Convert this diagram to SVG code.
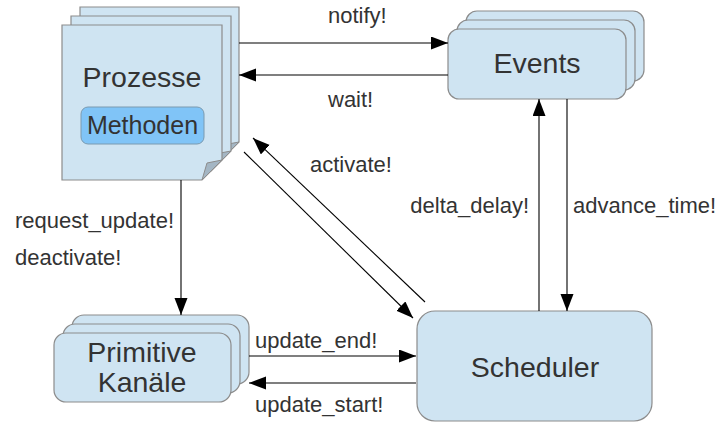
<svg xmlns="http://www.w3.org/2000/svg" width="720" height="423" viewBox="0 0 720 423">
<defs>
<style>
.box{fill:#cfe4f2;stroke:#8c8c8c;stroke-width:1.2}
.fold{fill:#a4b6c4;stroke:#8c8c8c;stroke-width:1}
.big{font-family:"Liberation Sans",Arial,sans-serif;font-size:28.5px;fill:#333;text-anchor:middle}
.lbl{font-family:"Liberation Sans",Arial,sans-serif;font-size:22px;fill:#333}
.edge{stroke:#000;stroke-width:1.1;fill:none;marker-end:url(#ah)}
</style>
<marker id="ah" markerUnits="userSpaceOnUse" markerWidth="18" markerHeight="14" refX="17" refY="6.5" orient="auto">
<path d="M0,0 L17,6.5 L0,13 z" fill="#000"/>
</marker>
</defs>
<rect width="720" height="423" fill="#fff"/>

<g id="prozesse">
<path class="box" d="M80,7 H239 V142 L219,162 H80 Z"/>
<path class="fold" d="M219,162 L223,145 L239,142 Z"/>
<path class="box" d="M71,16 H231 V151 L211,171 H71 Z"/>
<path class="fold" d="M211,171 L215,154 L231,151 Z"/>
<path class="box" d="M62,25 H222 V160 L202,180 H62 Z"/>
<path class="fold" d="M202,180 L207,163 L222,160 Z"/>
<text class="big" x="142" y="87">Prozesse</text>
<rect x="81" y="107" width="123" height="37" rx="7" fill="#80c4f7" stroke="#7a9ab0" stroke-width="1"/>
<text class="big" x="142.5" y="134" style="font-size:25px">Methoden</text>
</g>

<g id="events">
<rect class="box" x="466" y="11" width="178" height="70" rx="11"/>
<rect class="box" x="457" y="20" width="178" height="70" rx="11"/>
<rect class="box" x="448" y="29" width="178" height="70" rx="11"/>
<text class="big" x="537" y="73">Events</text>
</g>

<g id="kanaele">
<rect class="box" x="72" y="315" width="177" height="69" rx="12"/>
<rect class="box" x="63" y="324" width="177" height="69" rx="12"/>
<rect class="box" x="54" y="333" width="177" height="69" rx="12"/>
<text class="big" x="142" y="362">Primitive</text>
<text class="big" x="142" y="392">Kanäle</text>
</g>

<g id="scheduler">
<rect class="box" x="417" y="311" width="235" height="110" rx="18"/>
<text class="big" x="535" y="377">Scheduler</text>
</g>

<g id="connectors">
<line class="edge" x1="239" y1="43" x2="448" y2="43"/>
<line class="edge" x1="448" y1="75" x2="239" y2="75"/>
<line class="edge" x1="539" y1="311" x2="539" y2="99"/>
<line class="edge" x1="567" y1="99" x2="567" y2="311"/>
<line class="edge" x1="425" y1="302" x2="253" y2="138"/>
<line class="edge" x1="244" y1="152" x2="413" y2="318"/>
<line class="edge" x1="181" y1="180" x2="181" y2="315"/>
<line class="edge" x1="249" y1="356" x2="416" y2="356"/>
<line class="edge" x1="416" y1="383" x2="249" y2="383"/>
</g>

<g id="labels">
<text class="lbl" x="328" y="23">notify!</text>
<text class="lbl" x="328" y="107">wait!</text>
<text class="lbl" x="529" y="213" text-anchor="end">delta_delay!</text>
<text class="lbl" x="573" y="213">advance_time!</text>
<text class="lbl" x="310" y="172">activate!</text>
<text class="lbl" x="15" y="228">request_update!</text>
<text class="lbl" x="15" y="265">deactivate!</text>
<text class="lbl" x="255" y="348">update_end!</text>
<text class="lbl" x="255" y="412">update_start!</text>
</g>
</svg>
